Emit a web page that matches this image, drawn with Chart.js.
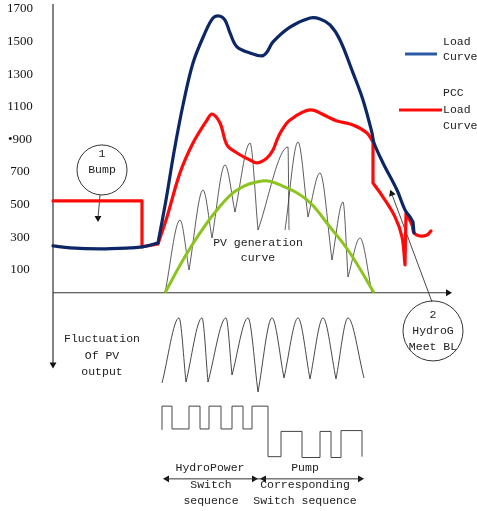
<!DOCTYPE html>
<html>
<head>
<meta charset="utf-8">
<script src="https://cdn.jsdelivr.net/npm/chart.js@4.4.1/dist/chart.umd.min.js"></script>
<style>
  html, body { margin: 0; padding: 0; background: #fff; }
  #wrap { width: 477px; height: 511px; position: relative; }
</style>
</head>
<body>
<div id="wrap"><canvas id="chart"></canvas></div>
<script>
// x = hour of the day, y = load; the part below zero is the schematic under the axis
const yTicks = [100, 300, 500, 700, 900, 1100, 1300, 1500, 1700];

// load curve (pieces split by null where the line has a corner)
const loadHours = [0, 1.02, 2.82, 4.62, 5.34, 6.30, null, 6.30, 6.78, 7.26, 7.80, 8.40, 9.12, 9.60, 9.96, 10.32, 10.62, 11.04, 11.82, 12.54, 12.84, 13.20, 14.22, 15.42, 16.02, 16.62, 17.22, 18.00, 18.60, 19.14, 19.26, 19.80, 20.64, 21.12, 21.42, 21.60, null, 21.60, 21.66];
const loadValues = [247, 235, 229, 235, 241, 265, null, 265, 529, 823, 1111, 1369, 1553, 1645, 1657, 1632, 1553, 1467, 1430, 1412, 1436, 1498, 1589, 1645, 1639, 1602, 1510, 1308, 1142, 940, 878, 756, 590, 468, 425, 394, null, 394, 327];

// PCC load curve
const pccHours = [0, 5.34, null, 5.34, 5.34, null, 5.34, 6.30, null, 6.30, 6.84, 7.62, 8.40, 9.24, 9.54, 10.02, 10.44, 11.04, 11.82, 12.24, 12.84, 13.20, 13.44, 13.74, 14.22, 15.42, 16.50, 17.04, 18.00, 18.84, 19.20, null, 19.20, 19.20, null, 19.20, 19.80, 20.52, 20.94, 21.12, null, 21.12, 21.18, null, 21.18, 21.54, 21.66, 22.02, 22.44, 22.68];
const pccValues = [523, 523, null, 523, 241, null, 241, 259, null, 259, 425, 695, 878, 1019, 1056, 1001, 866, 817, 774, 756, 787, 835, 897, 958, 1019, 1081, 1038, 1013, 989, 940, 885, null, 885, 633, null, 633, 547, 425, 302, 131, null, 131, 449, null, 449, 376, 327, 308, 314, 339];

// PV generation curve
const pvHours = [6.72, 7.80, 8.82, 9.84, 11.04, 12.54, 13.62, 15.24, 16.62, 17.82, 19.26];
const pvValues = [-40, 161, 327, 468, 590, 645, 621, 529, 363, 204, -40];

// real PV output bursts (foot, top, foot)
const burstHours = [6.72, 7.62, 8.16, null, 8.16, 9.00, 9.54, null, 9.54, 10.32, 10.92, null, 10.92, 11.82, 12.30, null, 12.30, 14.10, 14.16, null, 13.92, 14.70, 15.30, null, 15.30, 16.02, 16.74, null, 16.74, 17.40, 17.70, null, 17.70, 18.42, 19.14];
const burstValues = [-40, 406, 100, null, 100, 590, 296, null, 296, 744, 455, null, 455, 878, 345, null, 345, 854, 345, null, 345, 885, 425, null, 425, 695, 161, null, 161, 517, 57, null, 57, 296, -40];

// fluctuation of PV output (under the axis)
const swingHours = [6.54, 7.56, 7.98, null, 7.98, 8.94, 9.30, null, 9.30, 10.38, 10.74, null, 10.74, 11.70, 12.30, null, 12.30, 13.14, 13.86, null, 13.86, 14.70, 15.42, null, 15.42, 16.20, 16.98, null, 16.98, 17.70, 18.66];
const swingValues = [-593, -194, -587, null, -587, -194, -587, null, -587, -194, -544, null, -544, -194, -648, null, -648, -194, -562, null, -562, -194, -568, null, -568, -194, -568, null, -568, -194, -562];

// hydro / pump switch sequence
const switchHours = [6.54, 6.54, 7.14, 8.16, 8.82, 9.36, 10.08, 10.74, 11.40, 11.94, 12.90, 13.68, 14.94, 16.02, 16.68, 17.28, 18.54];
const switchValues = [-880, -735, -875, -735, -875, -735, -875, -735, -875, -735, -1045, -890, -1050, -890, -1050, -885, -1045];

const NAVY = '#0d2766';
const RED = '#ff0a0a';
const GREEN = '#8cc41e';
const INK = '#222';

function pts(xs, ys) {
    let last = 0;
    return xs.map((x, i) => {
        if (x === null) return {x: last, y: null};
        last = x;
        return {x: x, y: ys[i]};
    });
}

function line(data, color, width, extra) {
    return Object.assign({
        data: data,
        borderColor: color,
        borderWidth: width,
        pointRadius: 0,
        tension: 0,
        fill: false,
        clip: false
    }, extra || {});
}

const notes = [
    {t: 'PV generation', x: 12.30, y: 265},
    {t: 'curve', x: 12.30, y: 173},
    {t: '1', x: 2.94, y: 811},
    {t: 'Bump', x: 2.94, y: 713},
    {t: '2', x: 22.80, y: -176},
    {t: 'HydroG', x: 22.80, y: -274},
    {t: 'Meet BL', x: 22.80, y: -372},
    {t: 'Load', x: 23.40, y: 1497, a: 'left'},
    {t: 'Curve', x: 23.40, y: 1406, a: 'left'},
    {t: 'PCC', x: 23.40, y: 1185, a: 'left'},
    {t: 'Load', x: 23.40, y: 1081, a: 'left'},
    {t: 'Curve', x: 23.40, y: 983, a: 'left'},
    {t: 'Fluctuation', x: 2.94, y: -323},
    {t: 'Of PV', x: 2.94, y: -427},
    {t: 'output', x: 2.94, y: -525},
    {t: 'HydroPower', x: 9.42, y: -1114},
    {t: 'Switch', x: 9.48, y: -1218},
    {t: 'sequence', x: 9.48, y: -1316},
    {t: 'Pump', x: 15.12, y: -1114},
    {t: 'Corresponding', x: 15.12, y: -1218},
    {t: 'Switch sequence', x: 15.12, y: -1316}
];

const notesPlugin = {
    id: 'notes',
    afterDatasetsDraw(chart) {
        const ctx = chart.ctx;
        const sx = chart.scales.x, sy = chart.scales.y;
        ctx.save();
        ctx.fillStyle = INK;
        ctx.textBaseline = 'middle';
        ctx.font = '11.5px "Liberation Mono"';
        notes.forEach(n => {
            ctx.textAlign = n.a || 'center';
            ctx.fillText(n.t, sx.getPixelForValue(n.x), sy.getPixelForValue(n.y));
        });
        ctx.restore();
    }
};

new Chart(document.getElementById('chart'), {
    type: 'line',
    data: {
        datasets: [
            line(pts(loadHours, loadValues), NAVY, 3.2, {tension: 0.35, borderCapStyle: 'round'}),
            line(pts(pccHours, pccValues), RED, 3.2, {tension: 0.35, borderCapStyle: 'round'}),
            line(pts(pvHours, pvValues), GREEN, 3, {tension: 0.4}),
            line(pts(burstHours, burstValues), '#333', 0.8, {cubicInterpolationMode: 'monotone'}),
            line(pts(swingHours, swingValues), '#333', 0.9, {cubicInterpolationMode: 'monotone'}),
            line(pts(switchHours, switchValues), '#444', 1, {stepped: true}),
            // legend marks
            line([{x: 21.12, y: 1424}, {x: 23.04, y: 1424}], '#2a5aa6', 3),
            line([{x: 20.76, y: 1081}, {x: 23.34, y: 1081}], RED, 3),
            // axes
            line([{x: 0, y: 1730}, {x: 0, y: -470}], '#333', 1.2),
            line([{x: 0, y: -40}, {x: 23.6, y: -40}], '#333', 1.2),
            // pointers
            line([{x: 2.82, y: 560}, {x: 2.70, y: 419}], '#333', 0.9),
            line([{x: 22.74, y: -96}, {x: 20.32, y: 568}], '#333', 0.9),
            line([{x: 6.7, y: -1181}, {x: 18.5, y: -1181}], '#333', 1),
            {
                data: [{x: 0, y: -480}, {x: 23.7, y: -40}, {x: 2.70, y: 419}, {x: 20.32, y: 568},
                       {x: 6.84, y: -1181}, {x: 12.06, y: -1181}, {x: 12.66, y: -1181}, {x: 18.42, y: -1181}],
                showLine: false,
                pointStyle: 'triangle',
                pointRadius: 4,
                pointRotation: [180, 90, 180, -21, -90, 90, -90, 90],
                pointBackgroundColor: '#111',
                pointBorderColor: '#111',
                pointBorderWidth: 0,
                clip: false
            },
            {
                data: [{x: 2.94, y: 713}, {x: 22.80, y: -274}],
                showLine: false,
                pointStyle: 'circle',
                pointRadius: [25, 30],
                pointBackgroundColor: 'rgba(0,0,0,0)',
                pointBorderColor: '#333',
                pointBorderWidth: 1,
                clip: false
            }
        ]
    },
    options: {
        responsive: true,
        maintainAspectRatio: false,
        animation: false,
        layout: {padding: 0, autoPadding: false},
        plugins: {legend: {display: false}, tooltip: {enabled: false}},
        scales: {
            x: {type: 'linear', min: 0, max: 25.44, display: false},
            y: {
                type: 'linear',
                min: -1378,
                max: 1755,
                grid: {display: false, drawTicks: false},
                border: {display: false},
                afterBuildTicks: s => { s.ticks = yTicks.map(v => ({value: v})); },
                afterFit: s => { s.width = 53; s.paddingTop = 0; s.paddingBottom = 0; },
                ticks: {
                    crossAlign: 'center',
                    padding: 20,
                    color: '#111',
                    font: {family: 'Liberation Serif', size: 13},
                    callback: v => (v === 900 ? '\u2022900' : String(v))
                }
            }
        }
    },
    plugins: [notesPlugin]
});
</script>
</body>
</html>
